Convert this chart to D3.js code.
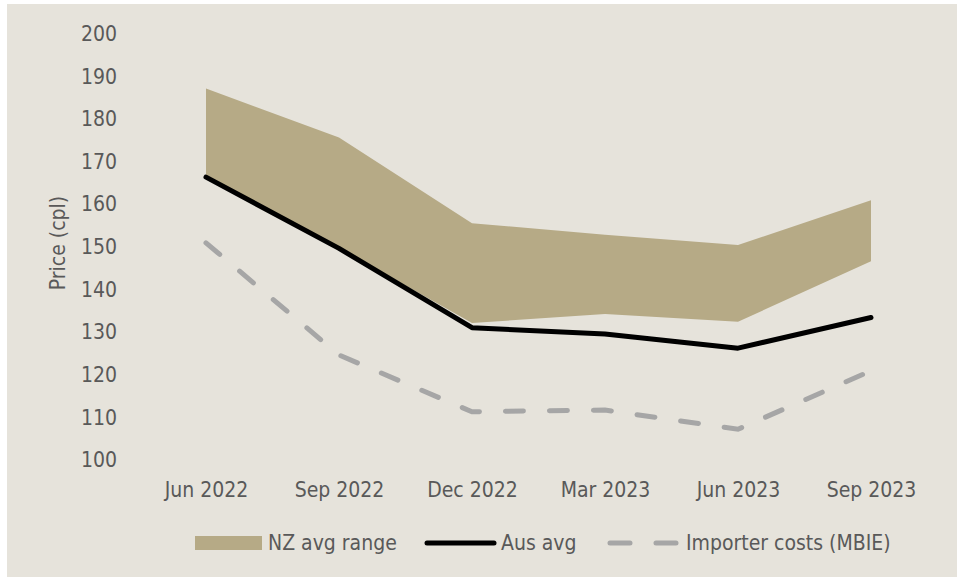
<!DOCTYPE html>
<html>
<head>
<meta charset="utf-8">
<script src="https://cdn.jsdelivr.net/npm/d3@7"></script>
<style>
  body { margin: 0; background: #ffffff; }
  svg text { font-family: "Liberation Sans Narrow", "DejaVu Sans Condensed", "Open Sans", sans-serif; fill: #595959; }
</style>
</head>
<body>
<svg id="chart" width="957" height="578"></svg>
<script>
// quarters along the x axis
const quarters = ["Jun 2022", "Sep 2022", "Dec 2022", "Mar 2023", "Jun 2023", "Sep 2023"];
// NZ average price range, cents per litre
const nzHigh = [187.0, 175.5, 155.4, 152.7, 150.3, 160.8];
const nzLow = [166.2, 149.6, 132.0, 134.1, 132.3, 146.5];
// Australian average
const ausAvg = [166.2, 149.5, 130.9, 129.4, 126.1, 133.3];
// importer costs (MBIE)
const importer = [150.8, 124.5, 111.2, 111.6, 107.1, 120.8];
const yTicks = [100, 110, 120, 130, 140, 150, 160, 170, 180, 190, 200];

const svg = d3.select("#chart");

// beige panel
svg.append("rect")
    .attr("x", 7).attr("y", 4)
    .attr("width", 950).attr("height", 573)
    .attr("fill", "#e6e3db");

let x = d3.scalePoint().domain(quarters).range([139.5, 937.5]).padding(0.5);
let y = d3.scaleLinear().domain([100, 200]).range([459.5, 33]);

let rows = quarters.map((q, i) => ({q: q, hi: nzHigh[i], lo: nzLow[i], aus: ausAvg[i], imp: importer[i]}));

// band for NZ range
let area = d3.area()
    .x(d => x(d.q))
    .y0(d => y(d.lo))
    .y1(d => y(d.hi));
svg.append("path")
    .datum(rows)
    .attr("d", area)
    .attr("fill", "#b6aa86");

// importer costs dashed line
let impLine = d3.line().x(d => x(d.q)).y(d => y(d.imp));
svg.append("path")
    .datum(rows)
    .attr("d", impLine)
    .attr("fill", "none")
    .attr("stroke", "#a6a6a6")
    .attr("stroke-width", 5)
    .attr("stroke-linecap", "round")
    .attr("stroke-dasharray", "18 26");

// Aus avg line
let ausLine = d3.line().x(d => x(d.q)).y(d => y(d.aus));
svg.append("path")
    .datum(rows)
    .attr("d", ausLine)
    .attr("fill", "none")
    .attr("stroke", "#000000")
    .attr("stroke-width", 5)
    .attr("stroke-linecap", "round")
    .attr("stroke-linejoin", "round");

// y axis, labels only
let yAxis = d3.axisLeft(y).tickValues(yTicks).tickSize(0).tickPadding(0);
let yg = svg.append("g")
    .attr("transform", "translate(117,0)")
    .call(yAxis);
yg.select(".domain").remove();
yg.selectAll("text").style("font-size", "21px").attr("dy", "0.35em");

// x axis, labels only
let xAxis = d3.axisBottom(x).tickSize(0).tickPadding(0);
let xg = svg.append("g")
    .attr("transform", "translate(0,490)")
    .call(xAxis);
xg.select(".domain").remove();
xg.selectAll("text").style("font-size", "21px").attr("dy", "0.35em");

// axis title
svg.append("text")
    .attr("transform", "translate(58,243) rotate(-90)")
    .attr("text-anchor", "middle")
    .attr("dy", "0.35em")
    .style("font-size", "21px")
    .text("Price (cpl)");

// legend
let lg = svg.append("g").attr("transform", "translate(0,543)");
lg.append("rect").attr("x", 195).attr("y", -7).attr("width", 67).attr("height", 14).attr("fill", "#b6aa86");
lg.append("text").attr("x", 268).attr("dy", "0.35em").style("font-size", "21px").text("NZ avg range");
lg.append("line").attr("x1", 427).attr("x2", 494).attr("y1", 0).attr("y2", 0)
    .attr("stroke", "#000").attr("stroke-width", 5).attr("stroke-linecap", "round");
lg.append("text").attr("x", 501).attr("dy", "0.35em").style("font-size", "21px").text("Aus avg");
lg.append("line").attr("x1", 610).attr("x2", 680).attr("y1", 0).attr("y2", 0)
    .attr("stroke", "#a6a6a6").attr("stroke-width", 5).attr("stroke-linecap", "round")
    .attr("stroke-dasharray", "20 26");
lg.append("text").attr("x", 686).attr("dy", "0.35em").style("font-size", "21px").text("Importer costs (MBIE)");
</script>
</body>
</html>
